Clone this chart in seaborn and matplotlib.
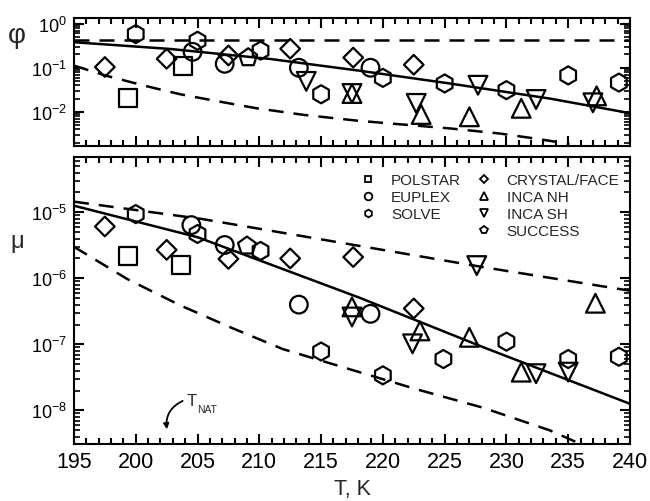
import numpy as np
import matplotlib
matplotlib.use("Agg")
import matplotlib.pyplot as plt
import seaborn as sns
from matplotlib.lines import Line2D
from matplotlib.ticker import MultipleLocator, LogLocator, NullFormatter

# --- data ---
campaigns = ["POLSTAR", "EUPLEX", "SOLVE", "CRYSTAL/FACE", "INCA NH", "INCA SH", "SUCCESS"]

# upper panel: phi vs T
phi_temps = {
    "POLSTAR": [199.4, 203.8],
    "EUPLEX": [204.6, 207.2, 213.2, 219.0],
    "SOLVE": [200.0, 205.0, 210.1, 215.0, 220.0, 225.0, 230.0, 235.0, 239.1],
    "CRYSTAL/FACE": [197.5, 202.5, 207.5, 212.5, 217.6, 222.5],
    "INCA NH": [217.5, 223.1, 227.0, 231.2, 237.3],
    "INCA SH": [213.8, 217.5, 222.7, 227.7, 232.4, 237.0],
    "SUCCESS": [209.1],
}
phi_vals = {
    "POLSTAR": [0.021, 0.11],
    "EUPLEX": [0.23, 0.123, 0.10, 0.10],
    "SOLVE": [0.58, 0.41, 0.245, 0.025, 0.059, 0.044, 0.031, 0.067, 0.046],
    "CRYSTAL/FACE": [0.104, 0.16, 0.19, 0.27, 0.17, 0.117],
    "INCA NH": [0.026, 0.0087, 0.0077, 0.012, 0.023],
    "INCA SH": [0.049, 0.026, 0.0155, 0.040, 0.019, 0.016],
    "SUCCESS": [0.17],
}

# lower panel: mu vs T
mu_temps = {
    "POLSTAR": [199.4, 203.7],
    "EUPLEX": [204.5, 207.2, 213.2, 219.0],
    "SOLVE": [200.0, 205.0, 210.1, 215.0, 220.0, 224.9, 230.0, 235.0, 239.1],
    "CRYSTAL/FACE": [197.5, 202.5, 207.5, 212.5, 217.6, 222.5],
    "INCA NH": [217.5, 223.0, 227.0, 231.2, 237.2],
    "INCA SH": [217.5, 222.4, 227.6, 232.4, 235.0],
    "SUCCESS": [209.0],
}
mu_vals = {
    "POLSTAR": [2.15e-6, 1.6e-6],
    "EUPLEX": [6.4e-6, 3.2e-6, 4.0e-7, 2.9e-7],
    "SOLVE": [9.4e-6, 4.7e-6, 2.6e-6, 7.8e-8, 3.4e-8, 6.0e-8, 1.1e-7, 6.0e-8, 6.5e-8],
    "CRYSTAL/FACE": [6.1e-6, 2.7e-6, 1.97e-6, 2.0e-6, 2.1e-6, 3.5e-7],
    "INCA NH": [3.7e-7, 1.6e-7, 1.28e-7, 3.8e-8, 4.2e-7],
    "INCA SH": [2.6e-7, 1.02e-7, 1.56e-6, 3.6e-8, 3.8e-8],
    "SUCCESS": [3.1e-6],
}

# model curves
phi_fit_T = [195, 202.8, 210.9, 218.2, 225.4, 233.5, 240]
phi_fit = [0.38, 0.267, 0.158, 0.085, 0.044, 0.020, 0.0093]
phi_upper_T = [195, 240]
phi_upper = [0.42, 0.42]
phi_lower_T = [195, 197.6, 200.9, 203.6, 206.8, 209.8, 213.6, 217.9, 221.4, 225.4, 229.5, 232.2, 235.1]
phi_lower = [0.112, 0.066, 0.038, 0.025, 0.017, 0.012, 0.0085, 0.0063, 0.0052, 0.0042, 0.0032, 0.0025, 0.00186]

mu_fit_T = [195, 205, 218.1, 228.1, 240]
mu_fit = [1.26e-5, 4.2e-6, 5.1e-7, 9.1e-8, 1.26e-8]
mu_upper_T = [195, 205.4, 218.1, 228.1, 240]
mu_upper = [1.45e-5, 7.9e-6, 3.1e-6, 1.48e-6, 6.5e-7]
mu_lower_T = [195, 199.3, 203.6, 207.7, 211.9, 218.1, 222.7, 228.1, 233.5, 236.0]
mu_lower = [3.0e-6, 9.8e-7, 3.9e-7, 1.8e-7, 8.5e-8, 3.8e-8, 2.1e-8, 1.1e-8, 5.0e-9, 3.1e-9]

T_NAT = 202.55

# --- styles ---
markers = {"POLSTAR": "s", "EUPLEX": "o", "SOLVE": "h", "CRYSTAL/FACE": "D",
           "INCA NH": "^", "INCA SH": "v", "SUCCESS": "p"}
marker_ms = {"POLSTAR": 13, "EUPLEX": 12.7, "SOLVE": 13, "CRYSTAL/FACE": 10,
             "INCA NH": 13.5, "INCA SH": 13.5, "SUCCESS": 13.5}
legend_ms = {"POLSTAR": 5, "EUPLEX": 5.5, "SOLVE": 5.5, "CRYSTAL/FACE": 4.2,
             "INCA NH": 5.5, "INCA SH": 5.5, "SUCCESS": 5.5}
DASH = (0, (6, 4))

sns.set_theme(style="ticks")
plt.rcParams.update({
    "font.family": ["Liberation Sans", "DejaVu Sans"],
    "mathtext.fontset": "custom",
    "mathtext.rm": "Liberation Sans",
    "mathtext.it": "Liberation Sans:italic",
    "mathtext.bf": "Liberation Sans:bold",
    "axes.linewidth": 1.5,
    "axes.edgecolor": "black",
    # inward ticks on all four sides
    "xtick.direction": "in",
    "ytick.direction": "in",
    "xtick.top": True,
    "ytick.right": True,
    "xtick.major.size": 7,
    "xtick.minor.size": 4,
    "ytick.major.size": 7,
    "ytick.minor.size": 4,
    "xtick.major.width": 1.5,
    "xtick.minor.width": 1.5,
    "ytick.major.width": 1.5,
    "ytick.minor.width": 1.2,
    "xtick.color": "black",
    "ytick.color": "black",
})

fig = plt.figure(figsize=(6.5, 5.02), dpi=100)
ax1 = fig.add_axes([0.1138, 0.7078, 0.8554, 0.2544])
ax2 = fig.add_axes([0.1138, 0.1135, 0.8554, 0.5711])


def draw_panel(ax, temps, vals, curves):
    ax.set_yscale("log")
    for cx, cy, ls in curves:
        sns.lineplot(x=cx, y=cy, color="black", lw=1.8, linestyle=ls,
                     sort=False, estimator=None, ax=ax)
    for name in campaigns:
        sns.scatterplot(x=temps[name], y=vals[name], marker=markers[name],
                        s=marker_ms[name] ** 2, facecolor="none",
                        edgecolor="black", linewidth=1.6, ax=ax, zorder=3)
    ax.set_xlim(195, 240)
    ax.xaxis.set_major_locator(MultipleLocator(5))
    ax.xaxis.set_minor_locator(MultipleLocator(1))
    ax.yaxis.set_major_locator(LogLocator(base=10, numticks=20))
    ax.yaxis.set_minor_locator(LogLocator(base=10, subs=np.arange(2, 10), numticks=20))
    ax.yaxis.set_minor_formatter(NullFormatter())
    ax.tick_params(which="both", direction="in", top=True, right=True,
                   bottom=True, left=True)
    ax.tick_params(axis="x", labelsize=15.5, pad=5)
    ax.tick_params(axis="y", labelsize=13, pad=5)
    ax.set_xlabel("")
    ax.set_ylabel("")


draw_panel(ax1, phi_temps, phi_vals,
           [(phi_fit_T, phi_fit, "-"), (phi_upper_T, phi_upper, DASH),
            (phi_lower_T, phi_lower, DASH)])
ax1.set_ylim(1.7e-3, 1.35)
ax1.tick_params(labelbottom=False)

draw_panel(ax2, mu_temps, mu_vals,
           [(mu_fit_T, mu_fit, "-"), (mu_upper_T, mu_upper, DASH),
            (mu_lower_T, mu_lower, DASH)])
ax2.set_ylim(3.1e-9, 6.8e-5)
ax2.set_xlabel("T, K", fontsize=15.5, labelpad=4)

fig.text(17 / 650, 1 - 36 / 502, "\u03c6", fontsize=20, ha="center", va="center")
fig.text(17 / 650, 1 - 242 / 502, "\u03bc", fontsize=17, ha="center", va="center")

# T_NAT marker
ax2.annotate("", xy=(T_NAT, 4.7e-9), xytext=(204.0, 1.45e-8),
             arrowprops=dict(arrowstyle="-|>", connectionstyle="arc3,rad=0.4",
                             lw=1.3, color="black", mutation_scale=8))
ax2.text(204.1, 1.41e-8, "T", fontsize=12, ha="left", va="center")
ax2.text(205.0, 1.06e-8, "NAT", fontsize=7.5, ha="left", va="center")

# legend: 3 entries in first column, 4 in second
handles = []
labels = []
for name in campaigns:
    handles.append(Line2D([], [], ls="none", marker=markers[name], ms=legend_ms[name],
                          mfc="none", mec="black", mew=1.3))
    labels.append(name)
    if name == "SOLVE":
        handles.append(Line2D([], [], ls="none"))
        labels.append("")
ax2.legend(handles, labels, ncol=2, frameon=False, fontsize=11,
           loc="upper left", bbox_to_anchor=(0.515, 0.945),
           borderpad=0, borderaxespad=0, handlelength=1.0,
           handletextpad=1.0, columnspacing=1.0, labelspacing=0.2)

fig.savefig("out.png", dpi=100)
